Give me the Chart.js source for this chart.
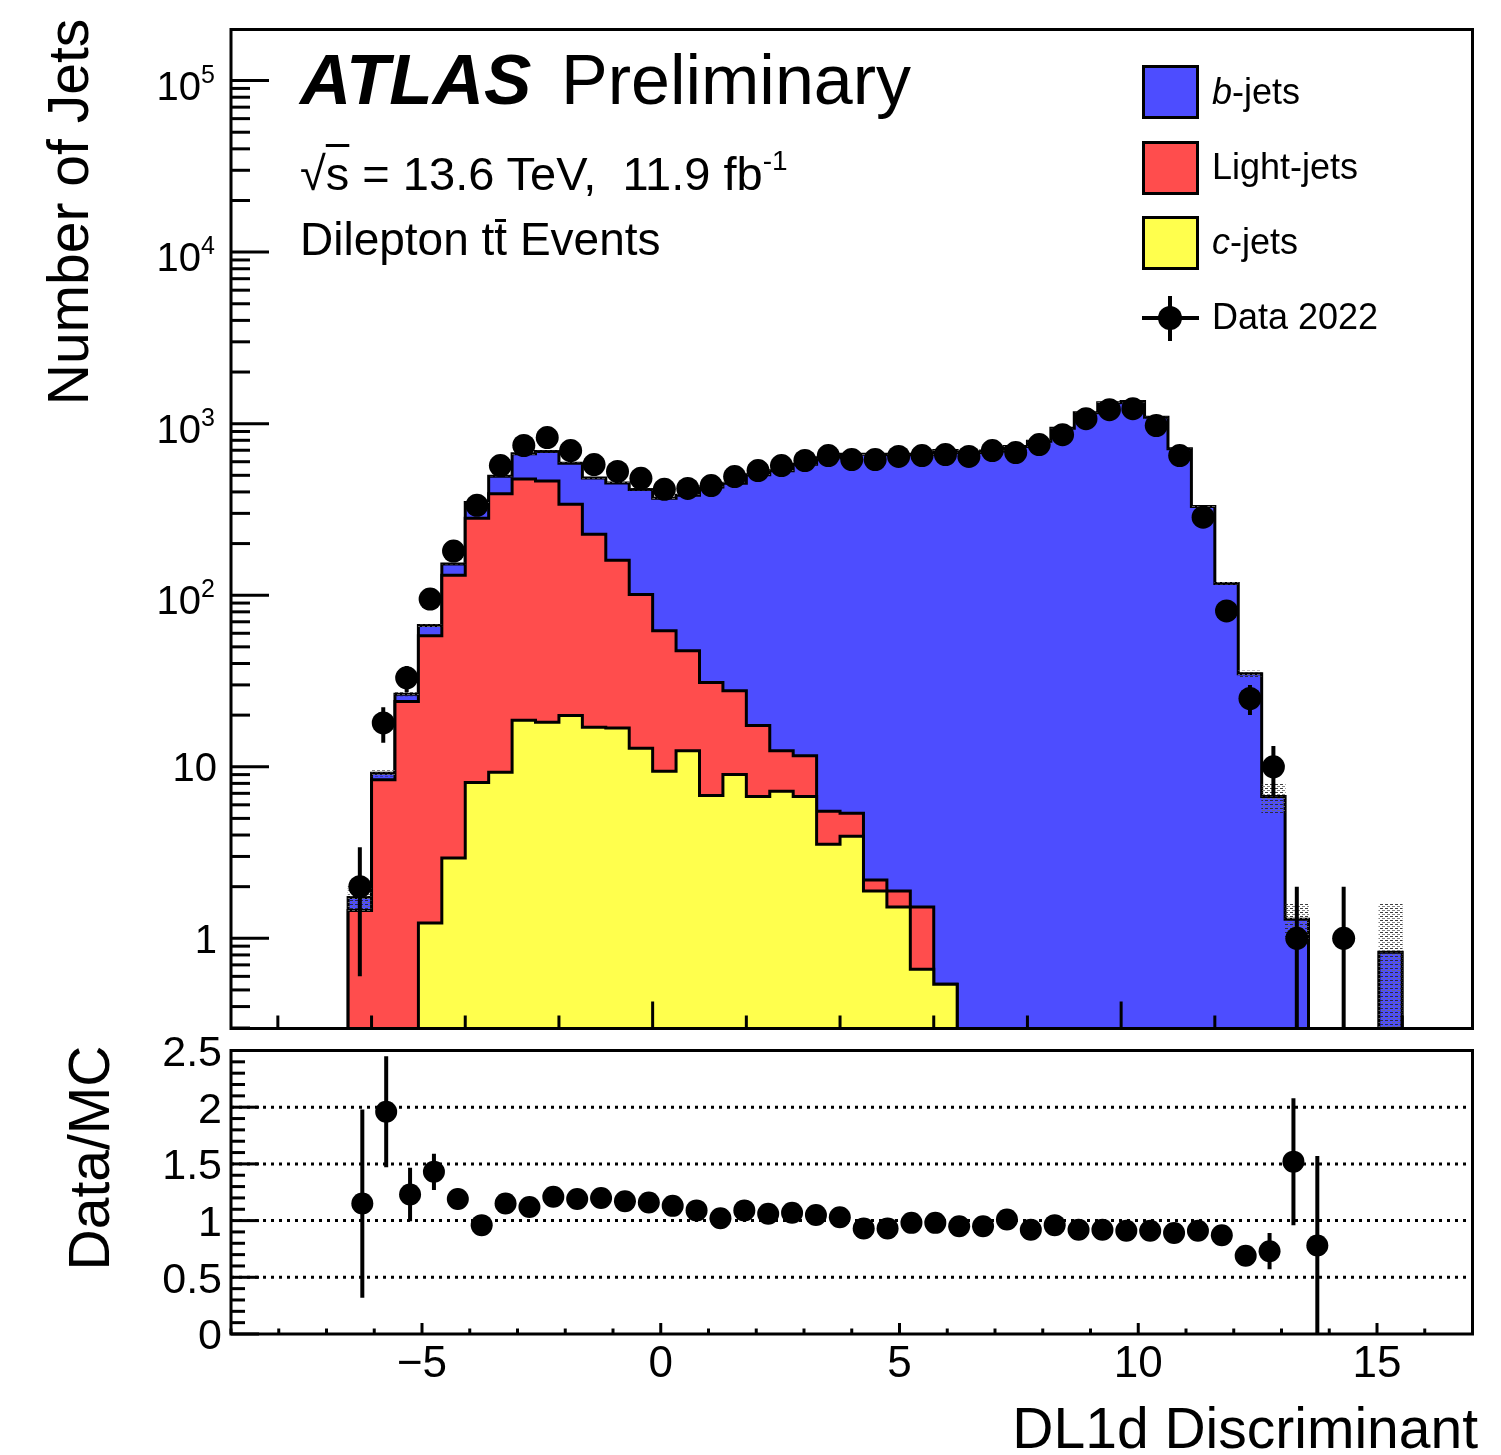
<!DOCTYPE html>
<html>
<head>
<meta charset="utf-8">
<title>DL1d Discriminant</title>
<script src="https://cdn.jsdelivr.net/npm/chart.js@4.4.1/dist/chart.umd.min.js"></script>
<style>
  html, body { margin: 0; padding: 0; background: #fff; }
  body { position: relative; width: 1501px; height: 1455px; overflow: hidden; font-family: "Liberation Sans", Arial, sans-serif; color: #000; }
  canvas { position: absolute; left: 0; }
  .txt { position: absolute; white-space: nowrap; }
  .rot { position: absolute; width: 500px; height: 60px; line-height: 60px; text-align: center; font-size: 57px; white-space: nowrap; transform: rotate(-90deg); }
  .box { position: absolute; left: 1142px; width: 57px; height: 54px; box-sizing: border-box; border: 3px solid #000; }
  .leg { position: absolute; left: 1212px; font-size: 36px; line-height: 36px; white-space: nowrap; }
  .ol { text-decoration: overline; text-decoration-thickness: 3px; }
  .bar { position: relative; }
  .bar::after { content: ""; position: absolute; left: 1px; right: 1px; top: 6px; height: 3px; background: #000; }
</style>
</head>
<body>
<canvas id="top" width="1501" height="1040" style="top:0"></canvas>
<canvas id="ratio" width="1501" height="455" style="top:1000px"></canvas>

<!-- labels on the plot -->
<div class="txt" style="left:300px; top:44px; font: italic bold 71px 'Liberation Sans'; line-height:71px;">ATLAS</div>
<div class="txt" style="left:561px; top:45px; font-size:70px; line-height:70px;">Preliminary</div>
<div class="txt" style="left:300px; top:137px; font-size:47px; line-height:47px;">√<span class="ol">s</span> = 13.6 TeV,&nbsp; 11.9 fb<span style="font-size:28px; vertical-align:20px;">-1</span></div>
<div class="txt" style="left:300px; top:216px; font-size:46px; line-height:46px;">Dilepton t<span class="bar">t</span> Events</div>

<!-- legend -->
<div class="box" style="top:65px; background:#4d4dff;"></div>
<div class="box" style="top:141px; background:#ff4d4d;"></div>
<div class="box" style="top:216px; background:#ffff4d;"></div>
<div style="position:absolute; left:1142px; top:316px; width:57px; height:4px; background:#000;"></div>
<div style="position:absolute; left:1168px; top:296px; width:4px; height:45px; background:#000;"></div>
<div style="position:absolute; left:1158px; top:306px; width:24px; height:24px; border-radius:50%; background:#000;"></div>
<div class="leg" style="top:74px;"><i>b</i>-jets</div>
<div class="leg" style="top:149px;">Light-jets</div>
<div class="leg" style="top:224px;"><i>c</i>-jets</div>
<div class="leg" style="top:299px;">Data 2022</div>

<!-- axis titles -->
<div class="rot" style="left:-182px; top:182px;">Number of Jets</div>
<div class="rot" style="left:-161px; top:1128px;">Data/MC</div>
<div class="txt" style="right:23px; top:1400px; font-size:57px; line-height:57px;">DL1d Discriminant</div>

<script>
// bin edges of the DL1d discriminant histogram
const binEdges = [-6.5, -6, -5.5, -5, -4.5, -4, -3.5, -3, -2.5, -2, -1.5, -1, -0.5, 0, 0.5, 1, 1.5, 2, 2.5, 3,
  3.5, 4, 4.5, 5, 5.5, 6, 6.5, 7, 7.5, 8, 8.5, 9, 9.5, 10, 10.5, 11, 11.5, 12, 12.5, 13, 13.5, 14, 14.5, 15, 15.5, 16];

// MC components per bin
const cJets = [0, 0, 0, 1.23, 2.94, 8.1, 9.3, 18.7, 18.2, 19.9, 17.0, 16.8, 12.8, 9.4, 12.4, 6.8, 9.0, 6.7, 7.2, 6.7,
  3.54, 3.94, 1.89, 1.52, 0.66, 0.54, 0, 0, 0, 0, 0, 0, 0, 0, 0, 0, 0, 0, 0, 0, 0, 0, 0, 0, 0];
const lightJets = [1.45, 8.4, 24, 56.8, 128, 273, 381, 457, 445, 319, 210, 143, 88, 52.6, 35.1, 24.2, 18.7, 10.7, 5.2, 4.9,
  1.96, 1.42, 0.30, 0.37, 0.86, 0, 0, 0, 0, 0, 0, 0, 0, 0, 0, 0, 0, 0, 0, 0, 0, 0, 0, 0, 0];
const bJets = [0.28, 0.77, 2.5, 8.6, 21, 66, 104, 191, 225, 248, 256, 291, 313, 305, 335, 397, 422, 486, 520, 569,
  628, 658, 661, 658, 662, 697, 680, 693, 735, 790, 940, 1157, 1323, 1345, 1091, 715, 329, 117, 34.8, 6.7, 1.29, 0, 0, 0, 0.83];
// MC uncertainty (hatched band)
const mcErr = [0.3, 0.35, 0.6, 1.2, 2, 3.5, 4, 5, 5, 4.5, 4, 3.5, 3.5, 3, 3, 3.5, 3.5, 4, 4, 4.5,
  5, 5, 5, 5, 5, 5.5, 5.5, 5.5, 6, 6, 7, 9, 10, 10, 9, 6, 3, 2.5, 1.5, 1.3, 0.3, 0, 0, 0, 0.76];

// data 2022
const data2022 = [2, 18, 33, 95, 181, 334, 570, 746, 830, 697, 578, 527, 480, 414, 419, 436, 492, 533, 570, 610,
  652, 618, 618, 644, 652, 661, 644, 697, 679, 755, 863, 1069, 1207, 1223, 975, 652, 285, 81, 25, 10, 1, null, 1, null, null];
const dataErr = [1.4, 4.2, 5.7, 9.7, 13.5, 18.3, 23.9, 27.3, 28.8, 26.4, 24, 23, 21.9, 20.3, 20.5, 20.9, 22.2, 23.1, 23.9, 24.7,
  25.5, 24.9, 24.9, 25.4, 25.5, 25.7, 25.4, 26.4, 26.1, 27.5, 29.4, 32.7, 34.7, 35, 31.2, 25.5, 16.9, 9, 5, 3.2, 1, null, 1, null, null];

// Data/MC ratio
const ratio = [1.15, 1.96, 1.23, 1.43, 1.19, 0.96, 1.15, 1.12, 1.21, 1.19, 1.20, 1.17, 1.16, 1.13, 1.09, 1.02, 1.09, 1.06, 1.07, 1.05,
  1.03, 0.93, 0.93, 0.98, 0.98, 0.95, 0.95, 1.01, 0.92, 0.96, 0.92, 0.92, 0.91, 0.91, 0.89, 0.91, 0.87, 0.69, 0.73, 1.52, 0.78, null, null, null, null];
const ratioErr = [0.83, 0.49, 0.235, 0.16, 0.09, 0.053, 0.048, 0.041, 0.042, 0.045, 0.05, 0.05, 0.053, 0.055, 0.054, 0.049, 0.049, 0.046, 0.045, 0.043,
  0.04, 0.038, 0.038, 0.038, 0.038, 0.037, 0.037, 0.038, 0.036, 0.035, 0.031, 0.028, 0.026, 0.026, 0.029, 0.036, 0.051, 0.077, 0.16, 0.56, 0.79, null, null, null, null];

// tick labels
const topYTicks = [1, 10, 100, 1000, 10000, 100000];
const topYLabels = ['1', '10', '10^2', '10^3', '10^4', '10^5'];
const ratioYTicks = [0, 0.5, 1, 1.5, 2, 2.5];
const ratioYLabels = ['0', '0.5', '1', '1.5', '2', '2.5'];
const ratioXTicks = [-5, 0, 5, 10, 15];
const ratioXLabels = ['\u22125', '0', '5', '10', '15'];
const ratioGrid = [0.5, 1, 1.5, 2];

const BLUE = '#4d4dff', RED = '#ff4d4d', YELLOW = '#ffff4d';
const FONT = '"Liberation Sans", Arial, sans-serif';
const yMin = 0.298, yMax = 1.985e5;
const nBins = binEdges.length - 1;
const centers = binEdges.slice(0, -1).map((e, i) => (e + binEdges[i + 1]) / 2);

// stack levels: c, c + light, c + light + b
const levelC = cJets.slice();
const levelCL = cJets.map((v, i) => v + lightJets[i]);
const levelAll = levelCL.map((v, i) => v + bJets[i]);

// step outline of a histogram, closed down to the axis at both ends
function stepPoints(levels) {
  const pts = [{ x: binEdges[0], y: yMin }];
  levels.forEach((v, i) => pts.push({ x: binEdges[i], y: Math.max(v, yMin) }));
  pts.push({ x: binEdges[nBins], y: yMin });
  return pts;
}

function hatchPattern() {
  const c = document.createElement('canvas');
  c.width = 5; c.height = 4;
  const g = c.getContext('2d');
  g.fillStyle = 'rgba(40,40,40,0.9)';
  g.fillRect(0, 0, 3, 1);
  g.fillStyle = 'rgba(110,110,110,0.85)';
  g.fillRect(2, 2, 3, 1);
  return g.createPattern(c, 'repeat');
}

const bandPts = [];
levelAll.forEach((v, i) => {
  if (mcErr[i] > 0) bandPts.push({ x: centers[i], y: [Math.max(v - mcErr[i], yMin), v + mcErr[i]] });
});
const dataPts = [];
data2022.forEach((v, i) => { if (v !== null) dataPts.push({ x: centers[i], y: v }); });
const ratioPts = [];
ratio.forEach((v, i) => { if (v !== null) ratioPts.push({ x: centers[i], y: v }); });

function line(ctx, x1, y1, x2, y2) {
  ctx.beginPath(); ctx.moveTo(x1, y1); ctx.lineTo(x2, y2); ctx.stroke();
}

// vertical error bars, clipped to the frame
function drawErrors(chart, vals, errs, floor) {
  const { ctx, chartArea: ca, scales: { x, y } } = chart;
  ctx.save();
  ctx.beginPath(); ctx.rect(ca.left, ca.top, ca.right - ca.left, ca.bottom - ca.top); ctx.clip();
  ctx.strokeStyle = '#000'; ctx.lineWidth = 4;
  vals.forEach((v, i) => {
    if (v === null) return;
    const px = x.getPixelForValue(centers[i]);
    const lo = Math.max(v - errs[i], floor);
    line(ctx, px, y.getPixelForValue(lo), px, y.getPixelForValue(v + errs[i]));
  });
  ctx.restore();
}

const topFrame = {
  id: 'topFrame',
  afterDatasetsDraw(chart) { drawErrors(chart, data2022, dataErr, yMin); },
  afterDraw(chart) {
    const { ctx, chartArea: ca, scales: { x, y } } = chart;
    ctx.save();
    ctx.strokeStyle = '#000'; ctx.lineWidth = 3;
    // log y ticks
    for (let e = -1; e <= 5; e++) {
      for (let m = 1; m <= 9; m++) {
        const v = m * Math.pow(10, e);
        if (v < y.min || v > y.max) continue;
        const py = y.getPixelForValue(v);
        line(ctx, ca.left, py, ca.left + (m === 1 ? 38 : 19), py);
      }
    }
    // x ticks
    for (let v = -8; v <= 16; v += 2) {
      const px = x.getPixelForValue(v);
      line(ctx, px, ca.bottom, px, ca.bottom - (v % 10 === 0 ? 27 : 13));
    }
    ctx.strokeRect(ca.left, ca.top, ca.right - ca.left, ca.bottom - ca.top);
    // y labels
    ctx.fillStyle = '#000';
    topYTicks.forEach((v, k) => {
      const py = y.getPixelForValue(v);
      const [base, exp] = topYLabels[k].split('^');
      if (exp) {
        const right = ca.left - 16;
        ctx.font = '25px ' + FONT;
        const we = ctx.measureText(exp).width;
        ctx.font = '40px ' + FONT;
        const wb = ctx.measureText(base).width;
        ctx.textAlign = 'left';
        ctx.fillText(base, right - we - wb, py + 19);
        ctx.font = '25px ' + FONT;
        ctx.fillText(exp, right - we, py + 2);
      } else {
        ctx.font = '40px ' + FONT;
        ctx.textAlign = 'right';
        ctx.fillText(base, ca.left - 14, py + 14.5);
      }
    });
    ctx.restore();
  }
};

const ratioFrame = {
  id: 'ratioFrame',
  beforeDatasetsDraw(chart) {
    const { ctx, chartArea: ca, scales: { y } } = chart;
    ctx.save();
    ctx.strokeStyle = '#000'; ctx.lineWidth = 3; ctx.setLineDash([3, 5]);
    ratioGrid.forEach(v => { const py = y.getPixelForValue(v); line(ctx, ca.left, py, ca.right, py); });
    ctx.restore();
  },
  afterDatasetsDraw(chart) { drawErrors(chart, ratio, ratioErr, 0); },
  afterDraw(chart) {
    const { ctx, chartArea: ca, scales: { x, y } } = chart;
    ctx.save();
    ctx.strokeStyle = '#000'; ctx.lineWidth = 3;
    for (let k = 0; k <= 25; k++) {
      const py = y.getPixelForValue(k / 10);
      line(ctx, ca.left, py, ca.left + (k % 5 === 0 ? 28 : 14), py);
    }
    for (let v = -9; v <= 17; v++) {
      const px = x.getPixelForValue(v);
      line(ctx, px, ca.bottom, px, ca.bottom - (v % 5 === 0 ? 11 : 5.5));
    }
    ctx.strokeRect(ca.left, ca.top, ca.right - ca.left, ca.bottom - ca.top);
    ctx.fillStyle = '#000';
    ctx.font = '43px ' + FONT;
    ctx.textAlign = 'right';
    ratioYTicks.forEach((v, k) => ctx.fillText(ratioYLabels[k], ca.left - 9, y.getPixelForValue(v) + 15.4));
    ctx.font = '44px ' + FONT;
    ctx.textAlign = 'center';
    ratioXTicks.forEach((v, k) => ctx.fillText(ratioXLabels[k], x.getPixelForValue(v), ca.bottom + 43));
    ctx.restore();
  }
};

const stepStyle = { type: 'line', stepped: true, fill: 'start', borderColor: '#000', borderWidth: 3, pointRadius: 0, tension: 0 };

new Chart(document.getElementById('top'), {
  type: 'line',
  data: {
    datasets: [
      { type: 'scatter', label: 'Data 2022', data: dataPts, pointRadius: 11.5, pointBackgroundColor: '#000', pointBorderWidth: 0, order: 0 },
      { type: 'bar', label: 'MC uncertainty', data: bandPts, backgroundColor: hatchPattern(), borderWidth: 0,
        barPercentage: 1, categoryPercentage: 1, grouped: false, order: 1 },
      { ...stepStyle, label: 'c-jets', data: stepPoints(levelC), backgroundColor: YELLOW, order: 2 },
      { ...stepStyle, label: 'Light-jets', data: stepPoints(levelCL), backgroundColor: RED, order: 3 },
      { ...stepStyle, label: 'b-jets', data: stepPoints(levelAll), backgroundColor: BLUE, order: 4 }
    ]
  },
  options: {
    responsive: false, animation: false, devicePixelRatio: 1, events: [],
    layout: { padding: { left: 231, right: 28.5, top: 29.5, bottom: 8 } },
    plugins: { legend: { display: false }, tooltip: { enabled: false } },
    scales: {
      x: { type: 'linear', min: -9, max: 17.5, bounds: 'data', offset: false, display: false },
      y: { type: 'logarithmic', min: yMin, max: yMax, display: false }
    }
  },
  plugins: [topFrame]
});

new Chart(document.getElementById('ratio'), {
  type: 'scatter',
  data: {
    datasets: [
      { label: 'Data/MC', data: ratioPts, pointRadius: 11, pointBackgroundColor: '#000', pointBorderWidth: 0 }
    ]
  },
  options: {
    responsive: false, animation: false, devicePixelRatio: 1, events: [],
    layout: { padding: { left: 231, right: 28.5, top: 50.5, bottom: 121 } },
    plugins: { legend: { display: false }, tooltip: { enabled: false } },
    scales: {
      x: { type: 'linear', min: -9, max: 17, bounds: 'data', offset: false, display: false },
      y: { type: 'linear', min: 0, max: 2.5, display: false }
    }
  },
  plugins: [ratioFrame]
});
</script>
</body>
</html>
